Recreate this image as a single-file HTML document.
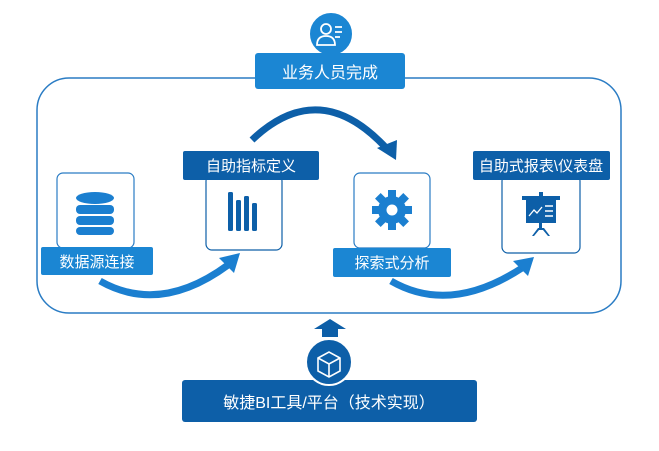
<!DOCTYPE html>
<html><head><meta charset="utf-8"><style>
body{margin:0;width:659px;height:446px;background:#fff;overflow:hidden;font-family:"Liberation Sans","Noto Sans CJK SC",sans-serif}
</style></head><body>
<svg width="659" height="446" viewBox="0 0 659 446" xmlns="http://www.w3.org/2000/svg" font-family="Liberation Sans, Noto Sans CJK SC, sans-serif">
<rect x="37" y="78" width="584" height="235" rx="32" fill="none" stroke="#2a7cc4" stroke-width="1.5"/>
<!-- top -->
<circle cx="331" cy="34" r="22" fill="#1b86d3" stroke="#fff" stroke-width="2"/>
<g fill="none" stroke="#fff" stroke-width="1.8"><circle cx="326" cy="29" r="5"/><path d="M317 45 q0-9 9-9 q9 0 9 9 z"/><path d="M335 27h7M335 32h7M335 37h5"/></g>
<rect x="255" y="53" width="150" height="36" rx="3" fill="#1b86d3"/>
<text x="330" y="78" text-anchor="middle" fill="#fff" font-size="16">业务人员完成</text>
<!-- box1 -->
<rect x="57" y="173" width="77" height="75" rx="6" fill="#fff" stroke="#2a7cc4" stroke-width="1.2"/>
<g fill="#1b7fd0"><ellipse cx="95" cy="198" rx="19" ry="6"/><rect x="76" y="205" width="38" height="9" rx="4"/><rect x="76" y="216" width="38" height="9" rx="4"/><rect x="76" y="227" width="38" height="8" rx="4"/></g>
<rect x="41" y="247" width="112" height="28" rx="2" fill="#1b86d3"/>
<text x="97" y="267" text-anchor="middle" fill="#fff" font-size="15">数据源连接</text>
<!-- box2 -->
<rect x="206" y="175" width="76" height="75" rx="6" fill="#fff" stroke="#0d5fa8" stroke-width="1.2"/>
<g fill="#0d5fa8"><rect x="228" y="192" width="5" height="39" rx="1.5"/><rect x="236" y="200" width="5" height="31" rx="1.5"/><rect x="244" y="196" width="5" height="35" rx="1.5"/><rect x="252" y="203" width="5" height="28" rx="1.5"/></g>
<rect x="183" y="151" width="136" height="29" rx="2" fill="#0d5fa8"/>
<text x="251" y="171" text-anchor="middle" fill="#fff" font-size="15">自助指标定义</text>
<!-- box3 -->
<rect x="354" y="173" width="76" height="75" rx="6" fill="#fff" stroke="#2a7cc4" stroke-width="1.2"/>
<g transform="translate(392,210)" fill="#1b7fd0">
<circle r="14"/>
<g><rect x="-4" y="-20" width="8" height="8"/><rect x="-4" y="12" width="8" height="8"/><rect x="-20" y="-4" width="8" height="8"/><rect x="12" y="-4" width="8" height="8"/>
<g transform="rotate(45)"><rect x="-4" y="-20" width="8" height="8"/><rect x="-4" y="12" width="8" height="8"/><rect x="-20" y="-4" width="8" height="8"/><rect x="12" y="-4" width="8" height="8"/></g></g>
<circle r="5.5" fill="#fff"/></g>
<rect x="333" y="248" width="118" height="29" rx="2" fill="#1b86d3"/>
<text x="392" y="268" text-anchor="middle" fill="#fff" font-size="15">探索式分析</text>
<!-- box4 -->
<rect x="502" y="175" width="78" height="78" rx="6" fill="#fff" stroke="#0d5fa8" stroke-width="1.2"/>
<g fill="#0d5fa8"><rect x="522" y="196" width="38" height="4"/><rect x="539" y="192" width="4" height="5"/><rect x="526" y="200" width="30" height="23"/><rect x="539" y="223" width="3" height="7"/><path d="M532 236 l6-8h6l6 8h-2l-5-6h-4l-5 6z"/></g>
<path d="M529 216 l5-6 3 3 5-6" stroke="#fff" stroke-width="1.3" fill="none"/>
<g stroke="#fff" stroke-width="1.5"><path d="M545 206h8M545 211h8M545 216h8"/></g>
<rect x="473" y="151" width="137" height="29" rx="2" fill="#0d5fa8"/>
<text x="541" y="171" text-anchor="middle" fill="#fff" font-size="15">自助式报表\仪表盘</text>
<!-- arrows -->
<g fill="none" stroke="#1b7fd0" stroke-width="7" stroke-linecap="butt">
<path d="M100 281 Q160 315 228 265"/>
<path d="M391 281 Q450 315 522 268"/>
</g>
<path d="M252 140 Q320 75 388 150" fill="none" stroke="#0d5fa8" stroke-width="7"/>
<polygon points="240,253 219,258 234,273" fill="#1b7fd0"/>
<polygon points="534,257 513,261 528,276" fill="#1b7fd0"/>
<polygon points="396,160 377,148 397,140" fill="#0d5fa8"/>
<!-- up arrow -->
<polygon points="330,319 314,329 322,329 322,337 338,337 338,329 346,329" fill="#0d5fa8"/>
<!-- bottom -->
<rect x="182" y="380" width="295" height="42" rx="3" fill="#0d5fa8"/>
<circle cx="329" cy="362" r="23" fill="#0d5fa8" stroke="#fff" stroke-width="2"/>
<g fill="none" stroke="#fff" stroke-width="1.6"><path d="M318 358 l11-6 11 6 v13 l-11 6 -11-6z"/><path d="M318 358 l11 6 11-6M329 364 v13"/></g>
<text x="329" y="408" text-anchor="middle" fill="#fff" font-size="16">敏捷BI工具/平台（技术实现）</text>
</svg>
</body></html>
